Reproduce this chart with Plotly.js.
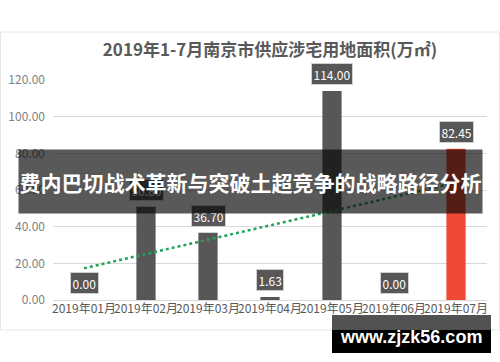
<!DOCTYPE html>
<html>
<head>
<meta charset="utf-8">
<script src="https://cdn.plot.ly/plotly-3.0.1.min.js"></script>
<style>html,body{margin:0;padding:0;background:#fff;}#chart{width:500px;height:362px;}</style>
</head>
<body>
<div id="chart"></div>
<script>
// ---- data ----
const months = ['2019年01月','2019年02月','2019年03月','2019年04月','2019年05月','2019年06月','2019年07月'];
const areas = [0.00, 50.80, 36.70, 1.63, 114.00, 0.00, 82.45];
const barColors = ['#595657','#595657','#595657','#595657','#595657','#595657','#f04a36'];
const trendMonths = ['2019年01月','2019年07月'];
const trendValues = [17.3, 64.1];
const yTicks = [0, 20, 40, 60, 80, 100, 120];
const chartTitle = '2019年1-7月南京市供应涉宅用地面积(万㎡)';
const bannerText = '费内巴切战术革新与突破土超竞争的战略路径分析';
const watermarkText = 'www.zjzk56.com';

// ---- geometry helpers (plot area: x 53..487, y 80..300 px) ----
const L = 53, R = 487, T = 80, B = 300;
const px = x => (x - L) / (R - L);
const py = y => (B - y) / (B - T);
const FONT = '"Noto Sans CJK SC", "Noto Sans", sans-serif';

const traces = [
  {
    type: 'bar', x: months, y: areas,
    marker: {color: barColors},
    hoverinfo: 'skip', showlegend: false
  },
  {
    type: 'scatter', mode: 'lines', x: trendMonths, y: trendValues,
    line: {color: '#22a35a', width: 2.5, dash: 'dot'},
    hoverinfo: 'skip', showlegend: false
  }
];

const annotations = months.map((m, i) => ({
  x: m, y: areas[i], xref: 'x', yref: 'y',
  text: areas[i].toFixed(2), showarrow: false,
  yanchor: 'bottom', yshift: 6,
  font: {family: FONT, size: 12, color: '#ffffff'},
  bgcolor: '#595657', bordercolor: '#d0d0d0', borderwidth: 1, borderpad: 1.5
}));

// banner overlay (above data labels)
annotations.push({
  xref: 'paper', yref: 'paper', x: px(250.5), y: py(181.5),
  xanchor: 'center', yanchor: 'middle', showarrow: false,
  text: '<b>' + bannerText + '</b>',
  width: 463, height: 63, borderpad: 0,
  bgcolor: 'rgba(8,8,8,0.67)',
  font: {family: FONT, size: 21, color: '#ffffff'}
});
// watermark text
annotations.push({
  xref: 'paper', yref: 'paper', x: px(411), y: py(337),
  xanchor: 'center', yanchor: 'middle', showarrow: false,
  text: '<b>' + watermarkText + '</b>',
  font: {family: '"Liberation Sans", Arial, sans-serif', size: 18, color: '#ffffff'}
});

const shapes = [
  // card border
  {type: 'rect', xref: 'paper', yref: 'paper', layer: 'below',
   x0: px(0.5), x1: px(499.5), y0: py(330), y1: py(32),
   line: {color: '#e6e6e6', width: 1}, fillcolor: 'rgba(0,0,0,0)'},
  // watermark box
  {type: 'rect', xref: 'paper', yref: 'paper', layer: 'above',
   x0: px(332), x1: px(491), y0: py(330), y1: py(315),
   line: {width: 0}, fillcolor: 'rgba(0,0,0,0.68)'},
  {type: 'rect', xref: 'paper', yref: 'paper', layer: 'above',
   x0: px(332), x1: px(491), y0: py(353), y1: py(330),
   line: {width: 0}, fillcolor: '#000000'}
];

const layout = {
  width: 500, height: 362,
  margin: {l: L, r: 500 - R, t: T, b: 362 - B, pad: 0},
  paper_bgcolor: '#ffffff', plot_bgcolor: '#ffffff',
  font: {family: FONT},
  title: {
    text: '<b>' + chartTitle + '</b>',
    font: {family: FONT, size: 17, color: '#595959'},
    x: 0.5, xanchor: 'center', xref: 'paper',
    y: 1 - 50 / 362, yanchor: 'middle', yref: 'container'
  },
  bargap: 0.69,
  xaxis: {
    type: 'category', range: [-0.5, 6.5], tickangle: 0,
    showgrid: false, zeroline: false, showline: false, ticks: '',
    tickfont: {family: FONT, size: 12, color: '#595959'}
  },
  yaxis: {
    range: [0, 120], tickvals: yTicks, tickformat: '.2f',
    showgrid: true, gridcolor: '#d9d9d9', gridwidth: 1,
    zeroline: true, zerolinecolor: '#d9d9d9', zerolinewidth: 1,
    showline: false, ticks: '', ticklabelstandoff: 7,
    tickfont: {family: FONT, size: 12, color: '#7f7f7f'}
  },
  annotations: annotations,
  shapes: shapes
};

Plotly.newPlot('chart', traces, layout, {displayModeBar: false, staticPlot: true});
</script>
</body>
</html>
